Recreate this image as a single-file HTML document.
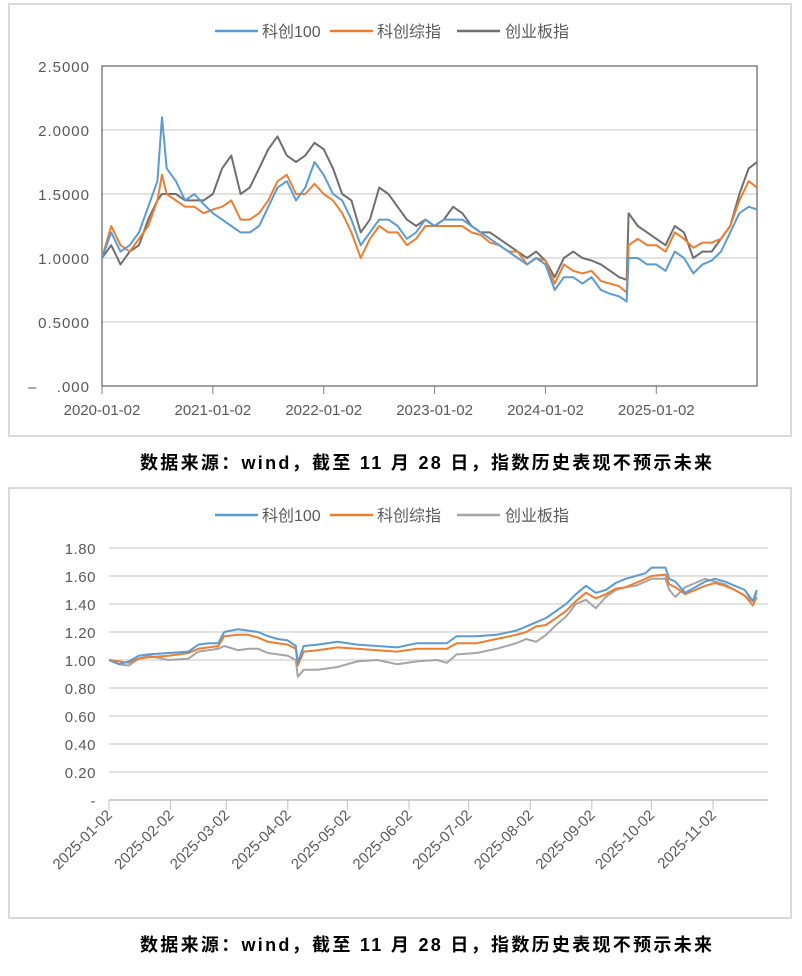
<!DOCTYPE html>
<html><head><meta charset="utf-8"><style>
body{margin:0;background:#fff;width:802px;height:976px;overflow:hidden;font-family:"Liberation Sans","Noto Sans CJK SC",sans-serif}
svg{position:absolute;left:0;top:0}
</style></head><body>
<svg id="s" width="802" height="976">
<rect x="9" y="4" width="782" height="432" fill="#fff" stroke="#d9d9d9" stroke-width="2"/>
<rect x="9" y="488" width="782" height="430" fill="#fff" stroke="#d9d9d9" stroke-width="2"/>
<text x="140" y="469" textLength="572" lengthAdjust="spacing" font-size="18" font-weight="bold" fill="#000">数据来源：wind，截至 11 月 28 日，指数历史表现不预示未来</text>
<text x="140" y="951" textLength="572" lengthAdjust="spacing" font-size="18" font-weight="bold" fill="#000">数据来源：wind，截至 11 月 28 日，指数历史表现不预示未来</text>
</svg>
<script>
// ---- Top chart data (month index from 2020-01) ----
const topT=[0,1,2,3,4,5,6,6.5,7,8,9,10,11,12,13,14,15,16,17,18,19,20,21,22,23,24,25,26,27,28,29,30,31,32,33,34,35,36,37,38,39,40,41,42,43,44,45,46,47,48,49,50,51,52,53,54,55,56,56.8,57,58,59,60,61,62,63,64,65,66,67,68,69,70,70.9];
const topBlue=[1.0,1.2,1.05,1.1,1.2,1.4,1.6,2.1,1.7,1.6,1.45,1.5,1.42,1.35,1.3,1.25,1.2,1.2,1.25,1.4,1.55,1.6,1.45,1.55,1.75,1.65,1.5,1.45,1.3,1.1,1.2,1.3,1.3,1.25,1.15,1.2,1.3,1.25,1.3,1.3,1.3,1.25,1.2,1.15,1.1,1.05,1.0,0.95,1.0,0.95,0.75,0.85,0.85,0.8,0.85,0.75,0.72,0.7,0.66,1.0,1.0,0.95,0.95,0.9,1.05,1.0,0.88,0.95,0.98,1.05,1.2,1.35,1.4,1.38,1.28];
const topOrange=[1.0,1.25,1.1,1.05,1.15,1.25,1.45,1.65,1.5,1.45,1.4,1.4,1.35,1.38,1.4,1.45,1.3,1.3,1.35,1.45,1.6,1.65,1.5,1.5,1.58,1.5,1.45,1.35,1.2,1.0,1.15,1.25,1.2,1.2,1.1,1.15,1.25,1.25,1.25,1.25,1.25,1.2,1.18,1.12,1.1,1.05,1.05,0.95,1.0,0.98,0.8,0.95,0.9,0.88,0.9,0.82,0.8,0.78,0.73,1.1,1.15,1.1,1.1,1.05,1.2,1.15,1.08,1.12,1.12,1.15,1.25,1.45,1.6,1.55,1.47];
const topGray=[1.0,1.1,0.95,1.05,1.1,1.3,1.45,1.5,1.5,1.5,1.45,1.45,1.45,1.5,1.7,1.8,1.5,1.55,1.7,1.85,1.95,1.8,1.75,1.8,1.9,1.85,1.7,1.5,1.45,1.2,1.3,1.55,1.5,1.4,1.3,1.25,1.3,1.25,1.3,1.4,1.35,1.25,1.2,1.2,1.15,1.1,1.05,1.0,1.05,0.98,0.85,1.0,1.05,1.0,0.98,0.95,0.9,0.85,0.83,1.35,1.25,1.2,1.15,1.1,1.25,1.2,1.0,1.05,1.05,1.15,1.25,1.5,1.7,1.75,1.6];
const topYTicks=["2.5000","2.0000","1.5000","1.0000","0.5000",".000"];
const topYVals=[2.5,2.0,1.5,1.0,0.5,0];
const topXLabels=["2020-01-02","2021-01-02","2022-01-02","2023-01-02","2024-01-02","2025-01-02"];
const topXMonths=[0,12,24,36,48,60];
// ---- Bottom chart data (days since 2025-01-02) ----
const botT=[0,5,10,15,20,30,40,45,50,55,58,65,70,75,80,85,90,94,95,98,105,115,125,135,145,155,165,170,175,185,195,205,210,215,220,225,230,235,240,245,250,255,260,265,270,273,280,282,285,290,295,300,305,310,315,320,324,326];
const botBlue=[1.00,0.97,0.99,1.03,1.04,1.05,1.06,1.11,1.12,1.12,1.20,1.22,1.21,1.20,1.17,1.15,1.14,1.10,0.98,1.10,1.11,1.13,1.11,1.10,1.09,1.12,1.12,1.12,1.17,1.17,1.18,1.21,1.24,1.27,1.30,1.35,1.40,1.47,1.53,1.48,1.50,1.55,1.58,1.60,1.62,1.66,1.66,1.58,1.56,1.48,1.52,1.56,1.58,1.56,1.53,1.50,1.42,1.50];
const botOrange=[1.00,0.99,0.98,1.01,1.02,1.03,1.05,1.08,1.09,1.10,1.17,1.18,1.18,1.16,1.13,1.12,1.11,1.08,0.96,1.06,1.07,1.09,1.08,1.07,1.06,1.08,1.08,1.08,1.12,1.12,1.15,1.18,1.20,1.24,1.25,1.30,1.35,1.42,1.48,1.44,1.47,1.51,1.52,1.55,1.58,1.60,1.61,1.54,1.52,1.47,1.50,1.53,1.55,1.53,1.50,1.46,1.39,1.45];
const botGray=[1.00,0.97,0.96,1.01,1.03,1.00,1.01,1.06,1.07,1.08,1.10,1.07,1.08,1.08,1.05,1.04,1.03,1.00,0.88,0.93,0.93,0.95,0.99,1.00,0.97,0.99,1.00,0.98,1.04,1.05,1.08,1.12,1.15,1.13,1.18,1.25,1.31,1.40,1.43,1.37,1.45,1.50,1.52,1.53,1.56,1.58,1.58,1.50,1.45,1.52,1.55,1.58,1.56,1.54,1.50,1.46,1.42,1.48];
const botYTicks=["1.80","1.60","1.40","1.20","1.00","0.80","0.60","0.40","0.20","-"];
const botYVals=[1.8,1.6,1.4,1.2,1.0,0.8,0.6,0.4,0.2,0];
const botXLabels=["2025-01-02","2025-02-02","2025-03-02","2025-04-02","2025-05-02","2025-06-02","2025-07-02","2025-08-02","2025-09-02","2025-10-02","2025-11-02"];
const botXDays=[0,31,59,90,120,151,181,212,243,273,304];

const NS="http://www.w3.org/2000/svg";
const svg=document.getElementById('s');
function mk(tag,a,parent){const e=document.createElementNS(NS,tag);for(const k in a)e.setAttribute(k,a[k]);(parent||svg).appendChild(e);return e;}
const names=["科创100","科创综指","创业板指"];

// ----- top chart -----
const tx=m=>102+m*(655/70.9);
const ty=v=>386-v*128;
const gTop=mk('g',{});


topYVals.forEach((v,i)=>{
  if(v>0&&v<2.5){const l=mk('line',{x1:102,x2:757,y1:ty(v),y2:ty(v),stroke:'#d9d9d9','stroke-width':1.5},gTop);
  
  }
  const t=mk('text',{x:90,y:ty(v)+6,'text-anchor':'end','font-size':15,fill:'#595959','letter-spacing':'1'},gTop);
  t.textContent=topYTicks[i];
  
  
});
const dashT=mk('text',{x:28,y:392,'font-size':15,fill:'#595959'},gTop);dashT.textContent='–';


const box=mk('rect',{x:102,y:66,width:655,height:320,fill:'none',stroke:'#808080','stroke-width':1.5},gTop);


topXMonths.forEach((m,i)=>{
  mk('line',{x1:tx(m),x2:tx(m),y1:386,y2:394,stroke:'#808080'},gTop);
  const t=mk('text',{x:tx(m),y:415,'text-anchor':'middle','font-size':15,fill:'#595959'},gTop);
  t.textContent=topXLabels[i];
  
  
});
function series(g,T,V,xf,yf,col,nm){
  const p=T.map((t,i)=>xf(t).toFixed(1)+','+yf(V[i]).toFixed(1)).join(' ');
  const l=mk('polyline',{points:p,fill:'none',stroke:col,'stroke-width':2,'stroke-linejoin':'round'},g);
  
  
}
series(gTop,topT,topGray,tx,ty,'#6f6f6f','top-line-chinext');
series(gTop,topT,topOrange,tx,ty,'#ed7d31','top-line-star-composite');
series(gTop,topT,topBlue,tx,ty,'#5b9bd5','top-line-star100');

function legend(y,grayCol,pref){
  const g=mk('g',{});
  
  
  const items=[[215,262,'#5b9bd5'],[330,377,'#ed7d31'],[457,505,grayCol]];
  items.forEach((it,i)=>{
    mk('line',{x1:it[0],x2:it[0]+43,y1:y,y2:y,stroke:it[2],'stroke-width':2.5},g);
    const t=mk('text',{x:it[1],y:y+6,'font-size':16,fill:'#595959'},g);
    t.textContent=names[i];
    
    
  });
}
legend(31,'#6f6f6f','top');

// ----- bottom chart -----
const bx=d=>109+d*1.987;
const by=v=>800-v*140;
const gB=mk('g',{});


botYVals.forEach((v,i)=>{
  if(v>0){const l=mk('line',{x1:109,x2:768,y1:by(v),y2:by(v),stroke:'#d9d9d9','stroke-width':1.5},gB);
  
  }
  const t=mk('text',{x:96,y:by(v)+6,'text-anchor':'end','font-size':15,fill:'#595959','letter-spacing':'0.5'},gB);
  t.textContent=botYTicks[i];
  
  
});
const ax=mk('line',{x1:109,x2:768,y1:800,y2:800,stroke:'#bfbfbf','stroke-width':1.5},gB);


botXDays.forEach((d,i)=>{
  mk('line',{x1:bx(d),x2:bx(d),y1:800,y2:810,stroke:'#bfbfbf'},gB);
  const x=bx(d)+4,y=816;
  const t=mk('text',{x:x,y:y,'text-anchor':'end','font-size':15,fill:'#595959',transform:`rotate(-45 ${x} ${y})`},gB);
  t.textContent=botXLabels[i];
  
  
});
series(gB,botT,botGray,bx,by,'#a5a5a5','bottom-line-chinext');
series(gB,botT,botOrange,bx,by,'#ed7d31','bottom-line-star-composite');
series(gB,botT,botBlue,bx,by,'#5b9bd5','bottom-line-star100');
legend(515,'#a5a5a5','bottom');
</script>
</body></html>
